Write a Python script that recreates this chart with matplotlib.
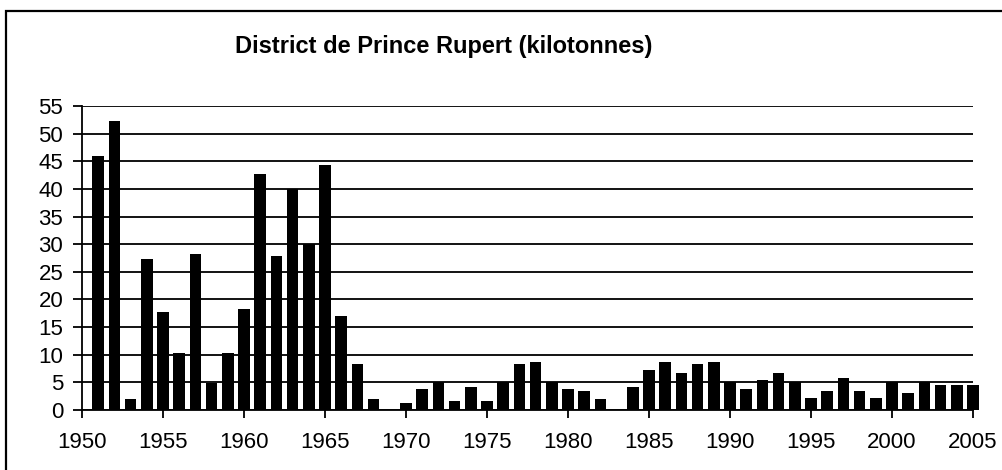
import matplotlib
matplotlib.use("Agg")
import matplotlib.pyplot as plt
from matplotlib.patches import Rectangle

plt.rcParams['font.family'] = ['Liberation Sans', 'DejaVu Sans']

years = list(range(1951, 2006))
values = [46.0, 52.2, 2.0, 27.4, 17.7, 10.4, 28.3, 4.8, 10.4, 18.3,
          42.7, 27.9, 40.0, 30.0, 44.3, 17.0, 8.3, 2.0, 0.0, 1.3,
          3.8, 5.0, 1.7, 4.1, 1.7, 5.0, 8.4, 8.7, 5.0, 3.8,
          3.5, 2.0, 0.0, 4.1, 7.2, 8.7, 6.7, 8.4, 8.7, 5.0,
          3.8, 5.5, 6.7, 5.0, 2.1, 3.5, 5.8, 3.5, 2.1, 5.0,
          3.1, 5.0, 4.5, 4.5, 4.6]
xticks = list(range(1950, 2006, 5))
yticks = list(range(0, 56, 5))
title = "District de Prince Rupert (kilotonnes)"

W, H = 1002, 470
fig = plt.figure(figsize=(W / 100, H / 100), dpi=100)
fig.patch.set_facecolor('white')

# outer frame
fig.patches.append(Rectangle((6 / W, -0.1), 1.2, (H - 11) / H + 0.1,
                             transform=fig.transFigure, fill=False,
                             edgecolor='black', linewidth=1.6))

ax = fig.add_axes([82 / W, 60 / H, (973 - 82) / W, (410 - 106) / H])
ax.bar(years, values, width=0.72, color='black', zorder=3, clip_on=False)
ax.set_xlim(1950, 2005)
ax.set_ylim(0, 55)
ax.set_xticks(xticks)
ax.set_yticks(yticks)
ax.yaxis.grid(True, color='black', linewidth=1.3, zorder=1)
ax.set_axisbelow(True)
for s in ['top', 'right']:
    ax.spines[s].set_visible(False)
for s in ['left', 'bottom']:
    ax.spines[s].set_linewidth(1.3)
    ax.spines[s].set_zorder(4)
ax.tick_params(axis='y', length=6.5, width=1.3, labelsize=16, pad=7)
ax.tick_params(axis='x', length=5.5, width=1.3, labelsize=16, pad=10)

fig.text(444 / W, 1 - 47 / H, title, ha='center', va='center',
         fontsize=17, fontweight='bold')

fig.savefig("out.png", dpi=100)
